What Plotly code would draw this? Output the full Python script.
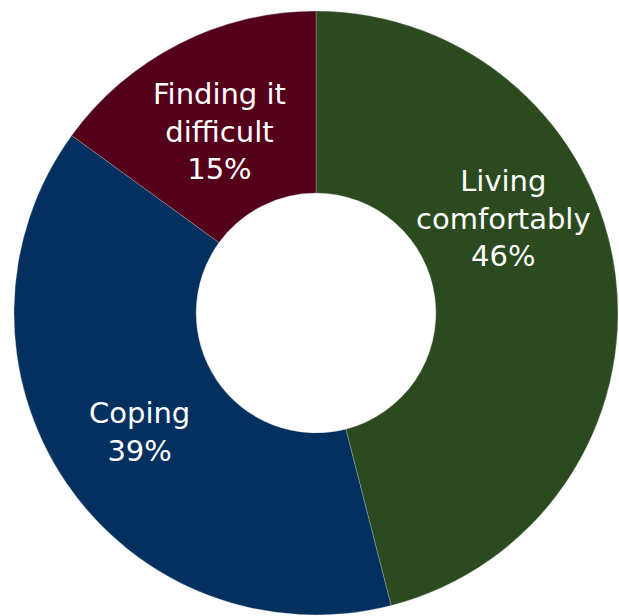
import plotly.graph_objects as go

# Share of respondents by how they are managing financially
categories = ["Living comfortably", "Coping", "Finding it difficult"]
shares = [46, 39, 15]
label_lines = ["Living<br>comfortably", "Coping", "Finding it<br>difficult"]

slice_colors = ["#2c4a20", "#03305f", "#55001a"]
# label anchor points in paper coordinates
label_xy = [(0.813, 0.645), (0.226, 0.298), (0.354, 0.787)]

W, H = 619, 616
cx, cy, r = 316, 313, 302

fig = go.Figure(
    go.Pie(
        labels=categories,
        values=shares,
        hole=0.397,
        sort=False,
        direction="clockwise",
        rotation=0,
        marker=dict(colors=slice_colors, line=dict(color="rgba(200,200,200,0.5)", width=0.6)),
        textinfo="none",
        hoverinfo="label+percent",
        domain=dict(x=[(cx - r) / W, (cx + r) / W], y=[1 - (cy + r) / H, 1 - (cy - r) / H]),
        showlegend=False,
    )
)

for name, lines, v, (x, y) in zip(categories, label_lines, shares, label_xy):
    fig.add_annotation(
        x=x, y=y, xref="paper", yref="paper",
        text=f"{lines}<br>{v}%",
        showarrow=False,
        xanchor="center", yanchor="middle",
        font=dict(family="DejaVu Sans", size=29, color="white"),
    )

fig.update_layout(
    width=W, height=H,
    margin=dict(l=0, r=0, t=0, b=0),
    paper_bgcolor="white",
    plot_bgcolor="white",
)

fig.write_html("out.html")
